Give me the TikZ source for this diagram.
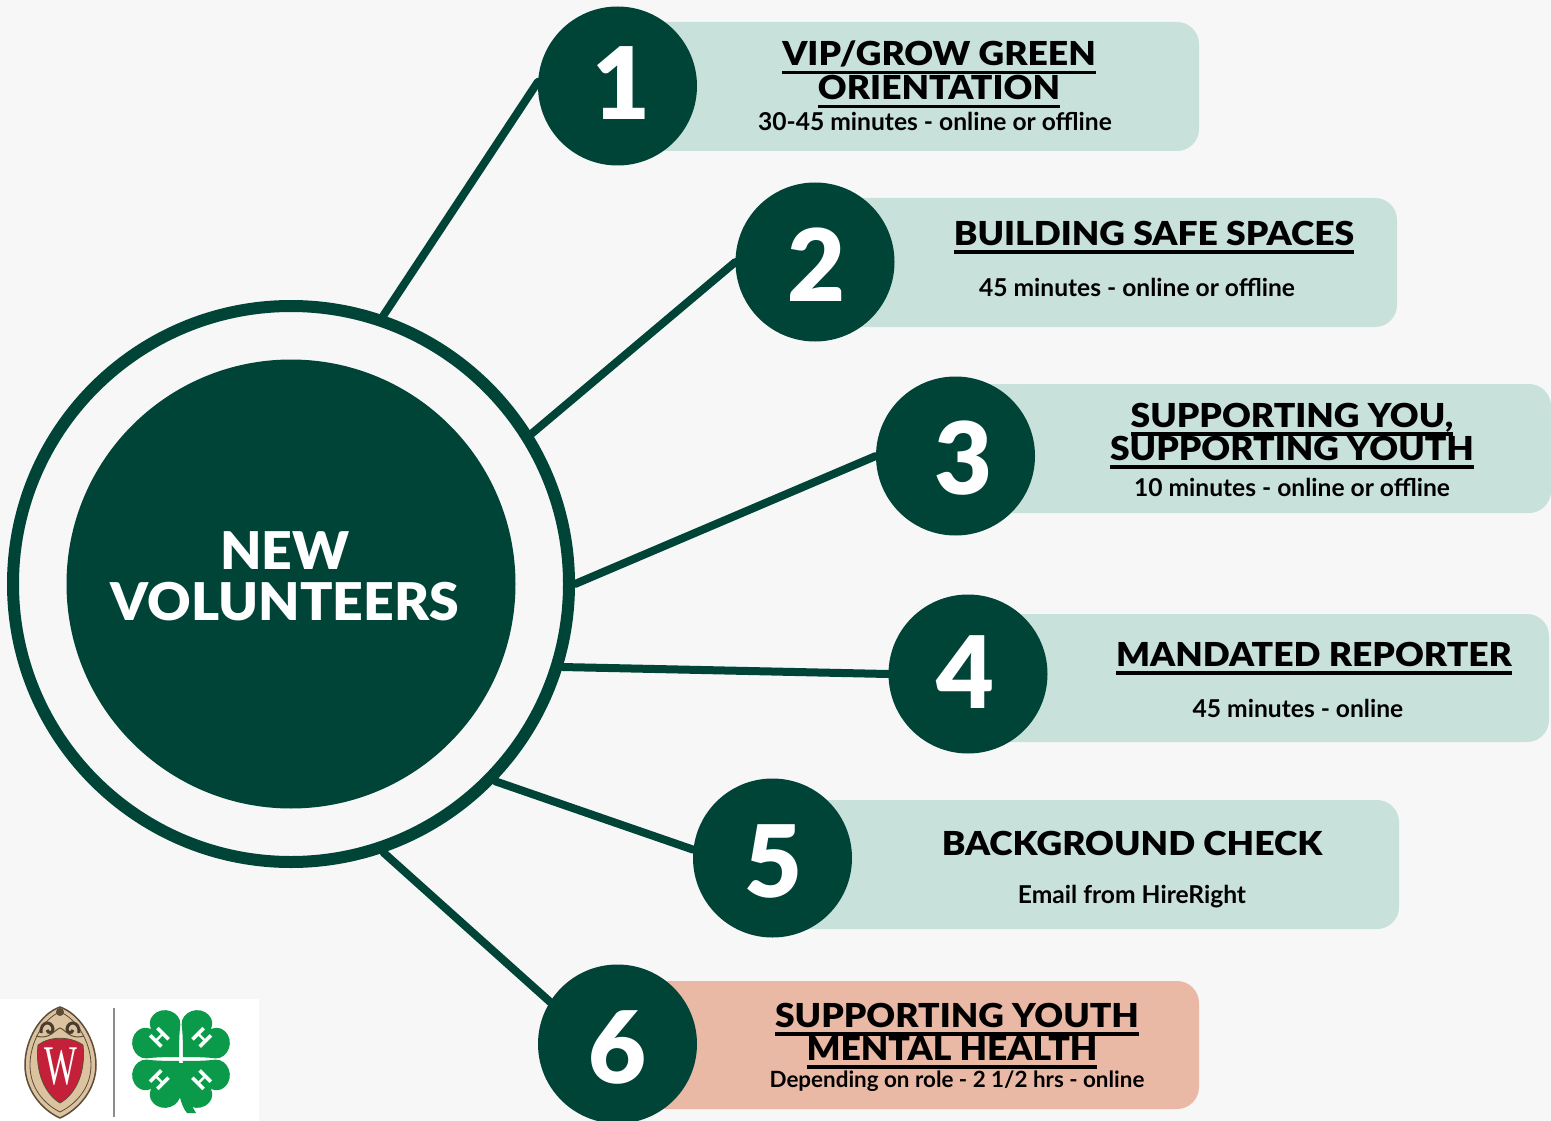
\documentclass[tikz,border=0pt]{standalone}
\usepackage{fontspec}
\usepackage{graphicx}
\setmainfont{Lato}
\newfontfamily\heavy{Lato Black}
\newfontfamily\wide{Lato Black}[FakeStretch=1.075]
\newfontfamily\hubfont{Lato Black}[FakeStretch=1.03]
\newfontfamily\bolder{Lato}[UprightFont=* Bold]
\newfontfamily\crestfont{Liberation Serif}
\definecolor{dark}{HTML}{004438}
\definecolor{pale}{HTML}{C8E1DB}
\definecolor{peach}{HTML}{EAB9A5}
\definecolor{bgc}{HTML}{F7F7F7}
\definecolor{clover}{HTML}{0A9A4A}
\definecolor{crestred}{HTML}{C5203A}
\definecolor{tan}{HTML}{DCC3A0}
\definecolor{crestline}{HTML}{5E4B38}
\newcommand{\ulbox}[1]{\setbox0=\hbox{#1}\leavevmode\rlap{\box0}\setbox0=\hbox{#1}\rlap{\kern0pt\raise-8.5pt\hbox{\vrule width\wd0 height 3.6pt depth 0pt}}\kern\wd0}
\tikzset{
  band/.style={rounded corners=22pt,draw=none},
  numdisc/.style={circle,fill=dark,minimum size=159pt,inner sep=0pt},
  digit/.style={anchor=base,text=white,inner sep=0pt,font=\heavy\fontsize{100}{100}\selectfont},
  ttl/.style={anchor=base,inner sep=0pt,text=black,font=\wide\fontsize{33}{33}\selectfont},
  subt/.style={anchor=base,inner sep=0pt,text=black,font=\bolder\fontsize{24.6}{25}\selectfont},
  hub/.style={anchor=base,inner sep=0pt,text=white,font=\hubfont\fontsize{52}{54}\selectfont},
  link/.style={draw=dark,line width=8pt,line cap=round},
  leaf/.style={fill=clover,draw=none},
  hmark/.style={text=white,inner sep=0pt,font=\heavy\fontsize{22}{22}\selectfont}
}
\newcommand{\leafat}[1]{%
  \begin{scope}[shift={(181,1059)},x=.92pt,y=.92pt,rotate=#1]
    \fill[leaf] (0,3) .. controls (-8,11) and (-17,20) .. (-26,27) .. controls (-36,36) and (-28,56) .. (-12,55) .. controls (-6,55) and (-2,51) .. (0,46) .. controls (2,51) and (6,55) .. (12,55) .. controls (28,56) and (36,36) .. (26,27) .. controls (17,20) and (8,11) .. (0,3) -- cycle;
    \node[hmark,rotate=#1] at (0,32) {H};
  \end{scope}}
\begin{document}
\begin{tikzpicture}[x=1pt,y=-1pt]
\useasboundingbox (0,0) rectangle (1551,1121);
\fill[bgc] (0,0) rectangle (1551,1121);
% bands
\fill[pale,band] (620,22) rectangle (1199,151);
\fill[pale,band] (818,198) rectangle (1397,327);
\fill[pale,band] (958,384) rectangle (1551,513);
\fill[pale,band] (970,614) rectangle (1549,742);
\fill[pale,band] (775,800) rectangle (1399,929);
\fill[peach,band] (620,981) rectangle (1199,1109);
% hub
\node[circle,draw=dark,line width=12pt,minimum size=556pt,inner sep=0pt] (ring) at (291,584) {};
\node[circle,fill=dark,minimum size=449pt,inner sep=0pt] (core) at (291,584) {};
\node[hub] (hubA) at (285,569) {NEW};
\node[hub] (hubB) at (285,620) {VOLUNTEERS};
% discs
\node[numdisc] (n1) at (617.5,86) {};
\node[numdisc] (n2) at (815,262) {};
\node[numdisc] (n3) at (955.5,456) {};
\node[numdisc] (n4) at (968,674) {};
\node[numdisc] (n5) at (772.5,858) {};
\node[numdisc] (n6) at (617.5,1044) {};
\node[digit] (d1) at (621,120) {1};
\node[digit] (d2) at (816,301) {2};
\node[digit] (d3) at (963,494) {3};
\node[digit] (d4) at (965,708) {4};
\node[digit] (d5) at (773,897) {5};
\node[digit] (d6) at (617,1083) {6};
% connectors
\draw[link] (ring.71.3) -- (n1.177);
\draw[link] (ring.32.1) -- (n2.180);
\draw[link] (ring.0.2) -- (n3.180);
\draw[link] (ring.-17) -- (n4.180);
\draw[link] (ring.-44.9) -- (n5.174);
\draw[link] (ring.-71.9) -- (n6.148);
% texts
\node[ttl] (t1a) at (939,66) {\ulbox{VIP/GROW GREEN}};
\node[ttl] (t1b) at (939,100) {\ulbox{ORIENTATION}};
\node[subt] (s1) at (935,131) {30-45 minutes - online or offline};
\node[ttl] (t2) at (1154,245) {\ulbox{BUILDING SAFE SPACES}};
\node[subt] (s2) at (1137,296) {45 minutes - online or offline};
\node[ttl] (t3a) at (1292,427) {\ulbox{SUPPORTING YOU,}};
\node[ttl] (t3b) at (1292,460) {\ulbox{SUPPORTING YOUTH}};
\node[subt] (s3) at (1292,496) {10 minutes - online or offline};
\node[ttl] (t4) at (1314,666) {\ulbox{MANDATED REPORTER}};
\node[subt] (s4) at (1298,717) {45 minutes - online};
\node[ttl] (t5) at (1132,855) {BACKGROUND CHECK};
\node[subt] (s5) at (1132,903) {Email from HireRight};
\node[ttl] (t6a) at (957,1027) {\ulbox{SUPPORTING YOUTH}};
\node[ttl] (t6b) at (952,1060) {\ulbox{MENTAL HEALTH}};
\node[subt,font=\bolder\fontsize{22.4}{23}\selectfont] (s6) at (957,1087) {Depending on role - 2 1/2 hrs - online};
% logo
\fill[white] (0,999) rectangle (259,1121);
\filldraw[fill=tan,draw=crestline,line width=1.5pt] (60,1007) .. controls (80,1014) and (96,1040) .. (96,1065) .. controls (96,1090) and (78,1110) .. (60,1118) .. controls (42,1110) and (25,1090) .. (25,1065) .. controls (25,1040) and (40,1014) .. (60,1007) -- cycle;
\draw[crestline,line width=.8pt] (60,1012) .. controls (76,1018) and (91,1042) .. (91,1065) .. controls (91,1088) and (76,1104) .. (60,1112) .. controls (44,1104) and (30,1088) .. (30,1065) .. controls (30,1042) and (44,1018) .. (60,1012) -- cycle;
\fill[crestline] (60,1012) circle (4pt);
\draw[crestline!80!black,line width=3pt] (41,1033) .. controls (40,1021) and (52,1020) .. (53,1029) .. controls (53,1033) and (48,1034) .. (47,1030);
\draw[crestline!80!black,line width=3pt] (79,1033) .. controls (80,1021) and (68,1020) .. (67,1029) .. controls (67,1033) and (72,1034) .. (73,1030);
\draw[crestline,line width=1pt] (36,1036) .. controls (50,1040) and (54,1030) .. (60,1028) .. controls (66,1030) and (70,1040) .. (84,1036);
\filldraw[fill=crestred,draw=crestline,line width=.8pt] (38,1045) .. controls (50,1036) and (70,1036) .. (83,1045) .. controls (86,1072) and (76,1094) .. (60,1103) .. controls (45,1094) and (35,1072) .. (38,1045) -- cycle;
\node[text=white,inner sep=0pt,font=\crestfont\fontsize{56}{56}\selectfont] (crestW) at (61,1067) {\scalebox{.62}[1]{W}};
\draw[gray!90,line width=2pt] (114,1008) -- (114,1117);
\leafat{-45}
\leafat{45}
\leafat{135}
\leafat{-135}
\fill[clover] (177,1063) .. controls (177,1092) and (181,1106) .. (187,1113) -- (196,1113) .. controls (189,1102) and (184,1085) .. (184,1063) -- cycle;
\end{tikzpicture}
\end{document}
